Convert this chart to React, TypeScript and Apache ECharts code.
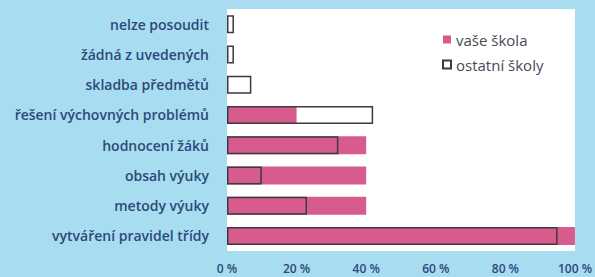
import React, { useEffect, useRef } from "react";
import * as echarts from "echarts";

const categories = [
  "nelze posoudit",
  "žádná z uvedených",
  "skladba předmětů",
  "řešení výchovných problémů",
  "hodnocení žáků",
  "obsah výuky",
  "metody výuky",
  "vytváření pravidel třídy",
];
const vaseSkola = [0, 0, 0, 20, 40, 40, 40, 100];
const ostatniSkoly = [2, 2, 7, 42, 32, 10, 23, 95];
const xTicks = [0, 20, 40, 60, 80, 100];

export default function App() {
  const ref = useRef<HTMLDivElement>(null);
  useEffect(() => {
    if (!ref.current) return;
    const chart = echarts.init(ref.current, null, { renderer: "svg" });
    chart.setOption({
      animation: false,
      backgroundColor: "#a8dcf1",
      textStyle: { fontFamily: "Open Sans" },
      grid: {
        left: 227,
        right: 18,
        top: 9,
        bottom: 26,
        show: true,
        backgroundColor: "#ffffff",
        borderWidth: 0,
      },
      legend: {
        orient: "vertical",
        left: 437,
        top: 27,
        itemWidth: 8,
        itemHeight: 8,
        itemGap: 10,
        textStyle: { color: "#454b55", fontSize: 15, fontFamily: "Open Sans" },
        data: [
          { name: "vaše škola", icon: "rect" },
          { name: "ostatní školy", icon: "rect" },
        ],
      },
      xAxis: {
        type: "value",
        min: 0,
        max: 100,
        interval: 20,
        axisLine: { show: false },
        axisTick: { show: false },
        splitLine: { show: false },
        axisLabel: {
          color: "#2b4a78",
          fontSize: 12,
          fontWeight: 600,
          margin: 11,
          formatter: (v: number) => (xTicks.includes(v) ? `${v} %` : ""),
        },
      },
      yAxis: {
        type: "category",
        inverse: true,
        data: categories,
        axisLine: { show: false },
        axisTick: { show: false },
        axisLabel: {
          color: "#2b4a78",
          fontSize: 14,
          fontWeight: 600,
          margin: 18,
        },
      },
      series: [
        {
          name: "vaše škola",
          type: "bar",
          data: vaseSkola,
          barWidth: 18,
          barGap: "-100%",
          itemStyle: { color: "#d75b8c" },
        },
        {
          name: "ostatní školy",
          type: "bar",
          data: ostatniSkoly,
          barWidth: 18,
          itemStyle: {
            color: "rgba(255,255,255,0)",
            borderColor: "#3a3a40",
            borderWidth: 1.5,
          },
        },
      ],
    });
    return () => chart.dispose();
  }, []);
  return (
    <div
      ref={ref}
      style={{ position: "absolute", left: 0, top: 0, width: 595, height: 277 }}
    />
  );
}
